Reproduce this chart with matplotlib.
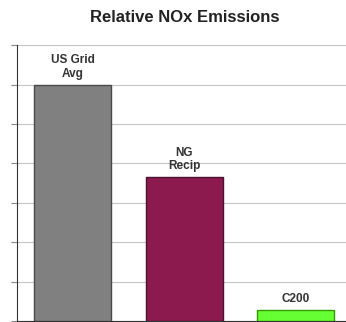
import matplotlib.pyplot as plt
import numpy as np

categories = ['US Grid\nAvg', 'NG\nRecip', 'C200']
emissions = [6.0, 3.65, 0.28]
bar_colors = ['#808080', '#8c1a4e', '#66ff33']
edge_colors = ['#4a4a4a', '#4a1030', '#339900']

plt.rcParams['font.family'] = ['Liberation Sans', 'DejaVu Sans']

fig = plt.figure(figsize=(3.46, 3.22), dpi=100)
ax = fig.add_axes([0.049, 0.003, 0.967, 0.857])

x = np.arange(len(categories))
ax.bar(x, emissions, width=0.69, color=bar_colors, edgecolor=edge_colors,
       linewidth=1.0, zorder=3)

# category names sit just above each bar
for xi, val, name in zip(x, emissions, categories):
    ax.text(xi, val + 0.12, name, ha='center', va='bottom', fontsize=8.5,
            fontweight='bold', linespacing=1.2, color='#333333', zorder=4)

ax.set_xlim(-0.5, 2.5)
ax.set_ylim(0, 7)
ax.set_yticks(np.arange(0, 8, 1))
ax.set_yticklabels([])
ax.set_xticks([])
ax.yaxis.grid(True, color='#c4c4c4', linewidth=0.8, zorder=0)
ax.tick_params(axis='y', length=4, width=0.8, color='#888888', direction='out')

for side in ['top', 'right']:
    ax.spines[side].set_visible(False)
ax.spines['left'].set_color('#333333')
ax.spines['bottom'].set_color('#333333')

fig.text(0.535, 0.947, 'Relative NOx Emissions', ha='center', va='center',
         fontsize=12, fontweight='bold', color='#222222')

fig.savefig('out.png', dpi=100)
